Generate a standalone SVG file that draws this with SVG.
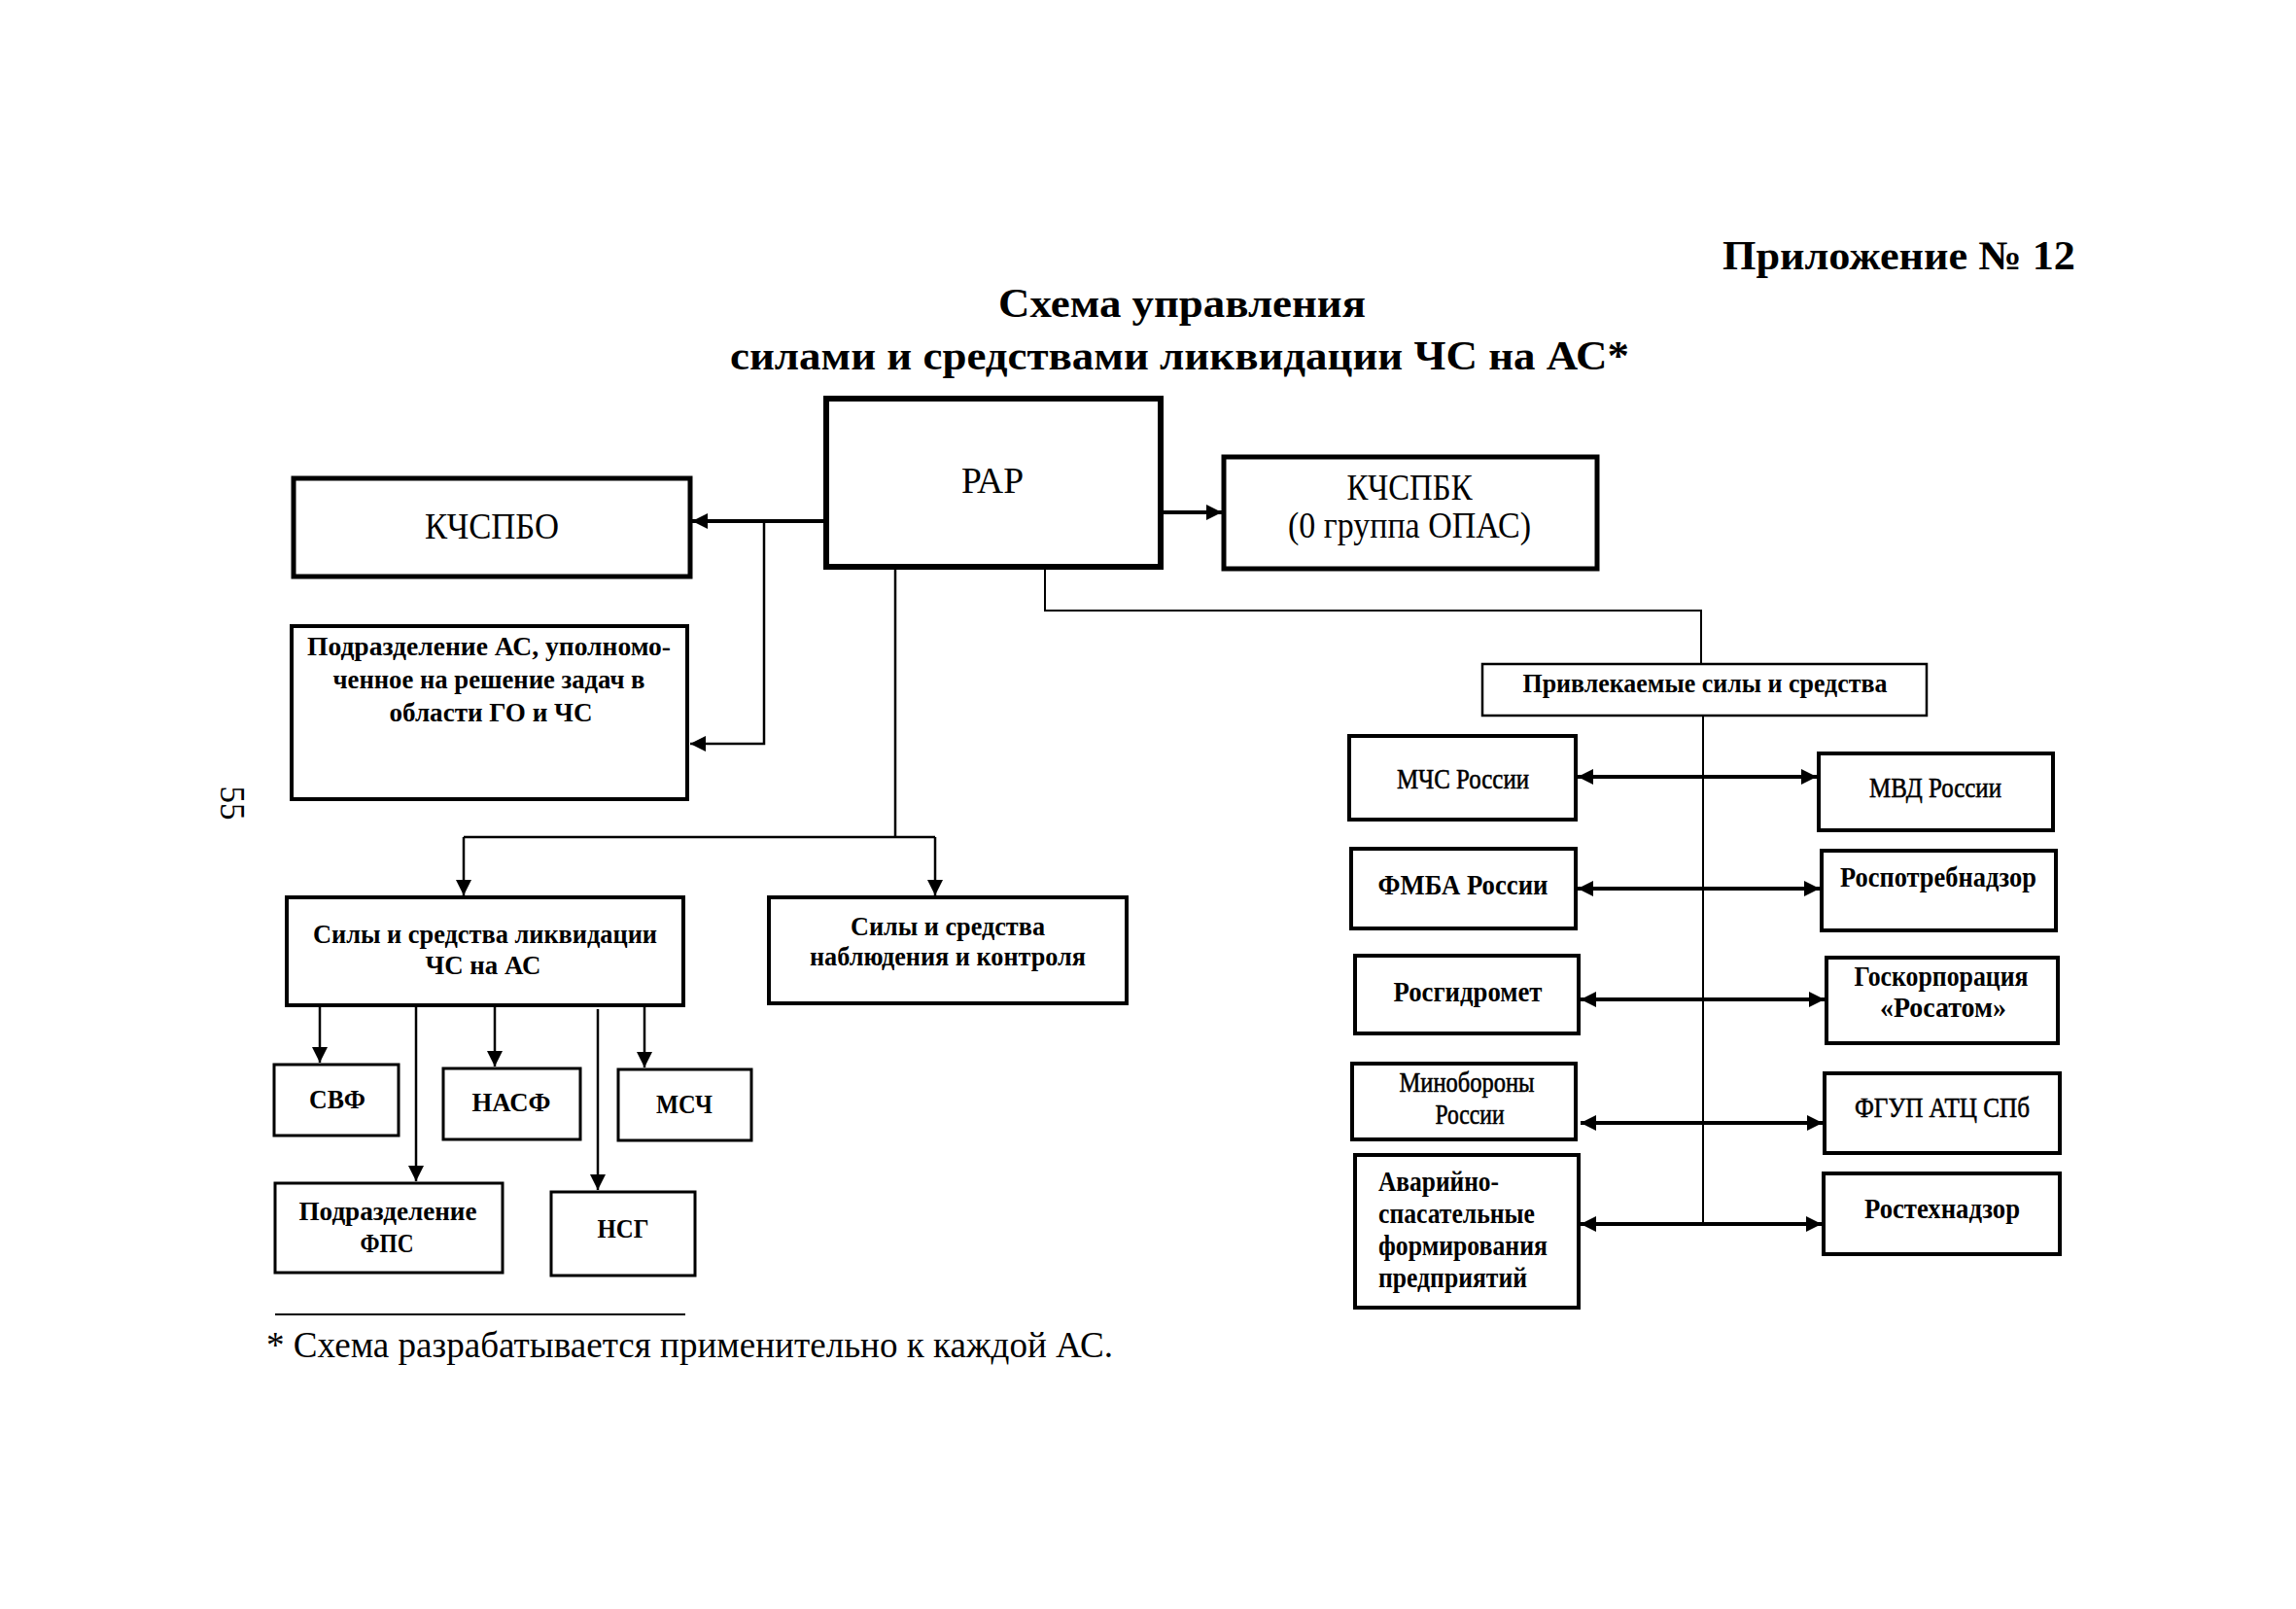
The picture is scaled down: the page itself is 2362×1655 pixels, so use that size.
<svg xmlns="http://www.w3.org/2000/svg" width="2362" height="1655" viewBox="0 0 2362 1655">
<style>
.t{font-family:"Liberation Serif","Times New Roman",serif;fill:#000}
.b{font-weight:bold}
.c{text-anchor:middle}
.box{fill:#fff;stroke:#000}
.ln{stroke:#000;fill:none}
</style>
<defs>
<marker id="ah" viewBox="0 0 10 10" refX="10" refY="5" markerUnits="userSpaceOnUse" markerWidth="17" markerHeight="16" orient="auto-start-reverse">
<path d="M0,0 L10,5 L0,10 Z" fill="#000"/>
</marker>
<marker id="ahs" viewBox="0 0 10 10" refX="10" refY="5" markerUnits="userSpaceOnUse" markerWidth="16" markerHeight="17" orient="auto">
<path d="M0,0 L10,5 L0,10 Z" fill="#000"/>
</marker>
</defs>
<rect width="2362" height="1655" fill="#fff"/>

<g id="title">
<text class="t b" x="1772" y="277" font-size="42" textLength="363" lengthAdjust="spacingAndGlyphs">Приложение № 12</text>
<text class="t b" x="1027" y="326" font-size="42" textLength="378" lengthAdjust="spacingAndGlyphs">Схема управления</text>
<text class="t b" x="751" y="380" font-size="42" textLength="925" lengthAdjust="spacingAndGlyphs">силами и средствами ликвидации ЧС на АС*</text>
</g>

<g id="page-number">
<text class="t c" transform="translate(227,826) rotate(90)" x="0" y="0" font-size="35">55</text>
</g>

<g id="connectors">
<line class="ln" x1="850" y1="536" x2="712" y2="536" stroke-width="4" marker-end="url(#ah)"/>
<line class="ln" x1="1194" y1="527" x2="1257" y2="527" stroke-width="4" marker-end="url(#ah)"/>
<polyline class="ln" points="786,536 786,765 710,765" stroke-width="2.5" marker-end="url(#ahs)"/>
<line class="ln" x1="921" y1="583" x2="921" y2="861" stroke-width="2.5"/>
<line class="ln" x1="477" y1="861" x2="962" y2="861" stroke-width="2.5"/>
<line class="ln" x1="477" y1="861" x2="477" y2="921" stroke-width="2.5" marker-end="url(#ahs)"/>
<line class="ln" x1="962" y1="861" x2="962" y2="921" stroke-width="2.5" marker-end="url(#ahs)"/>
<polyline class="ln" points="1075,583 1075,628 1750,628 1750,683" stroke-width="2"/>
<line class="ln" x1="1752" y1="736" x2="1752" y2="1261" stroke-width="2"/>
<line class="ln" x1="1623" y1="799" x2="1869" y2="799" stroke-width="4" marker-start="url(#ah)" marker-end="url(#ah)"/>
<line class="ln" x1="1623" y1="914" x2="1872" y2="914" stroke-width="4" marker-start="url(#ah)" marker-end="url(#ah)"/>
<line class="ln" x1="1626" y1="1028" x2="1877" y2="1028" stroke-width="4" marker-start="url(#ah)" marker-end="url(#ah)"/>
<line class="ln" x1="1626" y1="1155" x2="1875" y2="1155" stroke-width="4" marker-start="url(#ah)" marker-end="url(#ah)"/>
<line class="ln" x1="1626" y1="1259" x2="1874" y2="1259" stroke-width="4" marker-start="url(#ah)" marker-end="url(#ah)"/>
<line class="ln" x1="329" y1="1036" x2="329" y2="1093" stroke-width="2.5" marker-end="url(#ahs)"/>
<line class="ln" x1="428" y1="1036" x2="428" y2="1215" stroke-width="2.5" marker-end="url(#ahs)"/>
<line class="ln" x1="509" y1="1036" x2="509" y2="1097" stroke-width="2.5" marker-end="url(#ahs)"/>
<line class="ln" x1="615" y1="1038" x2="615" y2="1224" stroke-width="2.5" marker-end="url(#ahs)"/>
<line class="ln" x1="663" y1="1036" x2="663" y2="1098" stroke-width="2.5" marker-end="url(#ahs)"/>
</g>

<g id="rar">
<rect class="box" x="850" y="410" width="344" height="173" stroke-width="6"/>
<text class="t c" x="1021" y="507" font-size="38" textLength="64" lengthAdjust="spacingAndGlyphs">РАР</text>
</g>
<g id="kchspbo">
<rect class="box" x="302" y="492" width="408" height="101" stroke-width="5"/>
<text class="t c" x="506" y="554" font-size="37" textLength="138" lengthAdjust="spacingAndGlyphs">КЧСПБО</text>
</g>
<g id="kchspbk">
<rect class="box" x="1259" y="470" width="384" height="115" stroke-width="5"/>
<text class="t c" x="1450" y="514" font-size="37" textLength="129" lengthAdjust="spacingAndGlyphs">КЧСПБК</text>
<text class="t c" x="1450" y="553" font-size="37" textLength="250" lengthAdjust="spacingAndGlyphs">(0 группа ОПАС)</text>
</g>
<g id="podrazdelenie-as">
<rect class="box" x="300" y="644" width="407" height="178" stroke-width="4"/>
<text class="t b c" x="503" y="674" font-size="27" textLength="374" lengthAdjust="spacingAndGlyphs">Подразделение АС, уполномо-</text>
<text class="t b c" x="503" y="708" font-size="27" textLength="321" lengthAdjust="spacingAndGlyphs">ченное на решение задач в</text>
<text class="t b c" x="505" y="742" font-size="27" textLength="209" lengthAdjust="spacingAndGlyphs">области ГО и ЧС</text>
</g>
<g id="sily-likvidacii">
<rect class="box" x="295" y="923" width="408" height="111" stroke-width="4"/>
<text class="t b c" x="499" y="970" font-size="27" textLength="354" lengthAdjust="spacingAndGlyphs">Силы и средства ликвидации</text>
<text class="t b c" x="497" y="1002" font-size="27" textLength="119" lengthAdjust="spacingAndGlyphs">ЧС на АС</text>
</g>
<g id="sily-nablyudeniya">
<rect class="box" x="791" y="923" width="368" height="109" stroke-width="4"/>
<text class="t b c" x="975" y="962" font-size="27" textLength="200" lengthAdjust="spacingAndGlyphs">Силы и средства</text>
<text class="t b c" x="975" y="993" font-size="27" textLength="284" lengthAdjust="spacingAndGlyphs">наблюдения и контроля</text>
</g>
<g id="svf">
<rect class="box" x="282" y="1095" width="128" height="73" stroke-width="3"/>
<text class="t b c" x="347" y="1140" font-size="28" textLength="58" lengthAdjust="spacingAndGlyphs">СВФ</text>
</g>
<g id="nasf">
<rect class="box" x="456" y="1099" width="141" height="73" stroke-width="3"/>
<text class="t b c" x="526" y="1143" font-size="28" textLength="81" lengthAdjust="spacingAndGlyphs">НАСФ</text>
</g>
<g id="msch">
<rect class="box" x="636" y="1100" width="137" height="73" stroke-width="3"/>
<text class="t b c" x="704" y="1145" font-size="28" textLength="58" lengthAdjust="spacingAndGlyphs">МСЧ</text>
</g>
<g id="fps">
<rect class="box" x="283" y="1217" width="234" height="92" stroke-width="3"/>
<text class="t b c" x="399" y="1255" font-size="28" textLength="183" lengthAdjust="spacingAndGlyphs">Подразделение</text>
<text class="t b c" x="398" y="1288" font-size="28" textLength="55" lengthAdjust="spacingAndGlyphs">ФПС</text>
</g>
<g id="nsg">
<rect class="box" x="567" y="1226" width="148" height="86" stroke-width="3"/>
<text class="t b c" x="641" y="1273" font-size="28" textLength="53" lengthAdjust="spacingAndGlyphs">НСГ</text>
</g>

<g id="privlekaemye">
<rect class="box" x="1525" y="683" width="457" height="53" stroke-width="2.5"/>
<text class="t b c" x="1754" y="712" font-size="27" textLength="375" lengthAdjust="spacingAndGlyphs">Привлекаемые силы и средства</text>
</g>
<g id="mchs">
<rect class="box" x="1388" y="757" width="233" height="86" stroke-width="4"/>
<text class="t c" x="1505" y="811" font-size="30" textLength="136" lengthAdjust="spacingAndGlyphs" stroke="#000" stroke-width="0.6">МЧС России</text>
</g>
<g id="mvd">
<rect class="box" x="1871" y="775" width="241" height="79" stroke-width="4"/>
<text class="t c" x="1991" y="820" font-size="30" textLength="136" lengthAdjust="spacingAndGlyphs" stroke="#000" stroke-width="0.6">МВД России</text>
</g>
<g id="fmba">
<rect class="box" x="1390" y="873" width="231" height="82" stroke-width="4"/>
<text class="t b c" x="1505" y="920" font-size="30" textLength="175" lengthAdjust="spacingAndGlyphs">ФМБА России</text>
</g>
<g id="rospotrebnadzor">
<rect class="box" x="1874" y="875" width="241" height="82" stroke-width="4"/>
<text class="t b c" x="1994" y="912" font-size="30" textLength="202" lengthAdjust="spacingAndGlyphs">Роспотребнадзор</text>
</g>
<g id="rosgidromet">
<rect class="box" x="1394" y="983" width="230" height="80" stroke-width="4"/>
<text class="t b c" x="1510" y="1030" font-size="30" textLength="153" lengthAdjust="spacingAndGlyphs">Росгидромет</text>
</g>
<g id="rosatom">
<rect class="box" x="1879" y="985" width="238" height="88" stroke-width="4"/>
<text class="t b c" x="1997" y="1014" font-size="30" textLength="179" lengthAdjust="spacingAndGlyphs">Госкорпорация</text>
<text class="t b c" x="1999" y="1046" font-size="30" textLength="130" lengthAdjust="spacingAndGlyphs">«Росатом»</text>
</g>
<g id="minoborony">
<rect class="box" x="1391" y="1094" width="230" height="78" stroke-width="4"/>
<text class="t c" x="1509" y="1123" font-size="30" textLength="139" lengthAdjust="spacingAndGlyphs" stroke="#000" stroke-width="0.6">Минобороны</text>
<text class="t c" x="1512" y="1156" font-size="30" textLength="71" lengthAdjust="spacingAndGlyphs" stroke="#000" stroke-width="0.6">России</text>
</g>
<g id="fgup">
<rect class="box" x="1877" y="1104" width="242" height="82" stroke-width="4"/>
<text class="t c" x="1998" y="1149" font-size="30" textLength="180" lengthAdjust="spacingAndGlyphs" stroke="#000" stroke-width="0.6">ФГУП АТЦ СПб</text>
</g>
<g id="avariyno">
<rect class="box" x="1394" y="1188" width="230" height="157" stroke-width="4"/>
<text class="t b" x="1418" y="1225" font-size="30" textLength="124" lengthAdjust="spacingAndGlyphs">Аварийно-</text>
<text class="t b" x="1418" y="1258" font-size="30" textLength="161" lengthAdjust="spacingAndGlyphs">спасательные</text>
<text class="t b" x="1418" y="1291" font-size="30" textLength="174" lengthAdjust="spacingAndGlyphs">формирования</text>
<text class="t b" x="1418" y="1324" font-size="30" textLength="153" lengthAdjust="spacingAndGlyphs">предприятий</text>
</g>
<g id="rostekhnadzor">
<rect class="box" x="1876" y="1207" width="243" height="83" stroke-width="4"/>
<text class="t b c" x="1998" y="1253" font-size="30" textLength="160" lengthAdjust="spacingAndGlyphs">Ростехнадзор</text>
</g>

<g id="footnote">
<line class="ln" x1="283" y1="1352" x2="705" y2="1352" stroke-width="2"/>
<text class="t" x="274" y="1396" font-size="38" textLength="871" lengthAdjust="spacingAndGlyphs">* Схема разрабатывается применительно к каждой АС.</text>
</g>
</svg>
